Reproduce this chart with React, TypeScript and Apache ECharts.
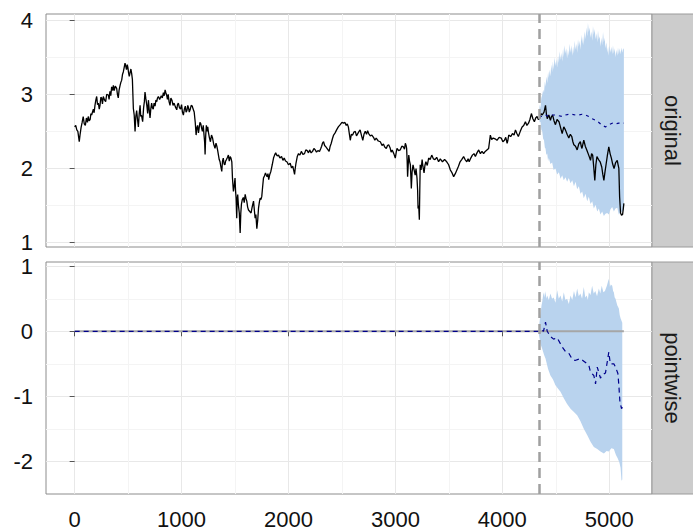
import React, { useEffect, useRef } from "react";
import * as echarts from "echarts";

// ---------- data ----------
const interventionX = 4342;
const xMajorTicks = [0, 1000, 2000, 3000, 4000, 5000];
const xMinorTicks = [500, 1500, 2500, 3500, 4500];
const topMajorTicks = [1, 2, 3, 4];
const topMinorTicks = [1.5, 2.5, 3.5];
const bottomMajorTicks = [-2, -1, 0, 1];
const bottomMinorTicks = [-1.5, -0.5, 0.5];
const panelNames = ["original", "pointwise"];

const observed: [number, number][] = [
  [0, 2.56], [10, 2.58], [20, 2.52], [30, 2.5], [43, 2.36], [50, 2.45], [60, 2.55], [70, 2.62], [80, 2.7],
  [90, 2.6], [100, 2.58], [110, 2.68], [120, 2.62], [127, 2.7], [136, 2.64], [145, 2.66], [152, 2.74],
  [159, 2.72], [167, 2.76], [175, 2.8], [182, 2.75], [190, 2.85], [198, 2.92], [206, 2.97], [214, 2.86],
  [222, 2.88], [230, 2.8], [237, 2.85], [245, 2.96], [252, 2.95], [260, 2.87], [268, 2.97], [280, 2.92],
  [290, 2.9], [300, 3.0], [315, 2.99], [322, 2.93], [330, 3.04], [338, 2.98], [346, 3.1], [356, 3.05],
  [362, 3.12], [370, 3.05], [380, 3.11], [393, 3.08], [400, 3.0], [408, 2.95], [416, 3.06], [425, 3.12],
  [432, 3.16], [440, 3.19], [448, 3.27], [455, 3.3], [463, 3.36], [471, 3.42], [478, 3.38], [485, 3.33],
  [492, 3.4], [498, 3.36], [505, 3.28], [511, 3.24], [520, 3.3], [526, 3.34], [533, 3.28], [540, 3.2],
  [549, 2.81], [557, 2.72], [565, 2.5], [572, 2.7], [580, 2.78], [588, 2.66], [596, 2.56], [604, 2.74],
  [612, 2.85], [618, 2.7], [625, 2.72], [636, 2.63], [645, 2.82], [652, 2.9], [658, 3.03], [666, 2.94],
  [675, 2.85], [683, 2.74], [690, 2.92], [697, 2.8], [705, 2.68], [712, 2.8], [720, 2.88], [727, 2.82],
  [735, 2.8], [743, 2.88], [752, 2.84], [760, 2.92], [768, 2.9], [775, 2.95], [783, 2.97], [795, 2.93],
  [810, 2.98], [820, 2.95], [830, 3.02], [838, 2.98], [846, 3.06], [853, 3.02], [860, 2.99], [868, 2.93],
  [875, 3.0], [883, 2.9], [892, 2.85], [900, 2.95], [910, 2.92], [920, 2.85], [930, 2.88], [942, 2.83],
  [955, 2.79], [962, 2.86], [970, 2.88], [980, 2.82], [990, 2.8], [1000, 2.86], [1008, 2.76], [1017, 2.72],
  [1026, 2.8], [1035, 2.84], [1042, 2.76], [1050, 2.78], [1058, 2.85], [1065, 2.82], [1072, 2.76],
  [1080, 2.79], [1090, 2.85], [1100, 2.84], [1108, 2.8], [1118, 2.76], [1128, 2.62], [1136, 2.45],
  [1143, 2.55], [1150, 2.58], [1158, 2.48], [1165, 2.55], [1172, 2.62], [1180, 2.6], [1188, 2.54],
  [1195, 2.5], [1203, 2.58], [1210, 2.45], [1216, 2.35], [1220, 2.19], [1226, 2.45], [1232, 2.58],
  [1238, 2.5], [1245, 2.56], [1252, 2.48], [1261, 2.41], [1270, 2.36], [1280, 2.45], [1290, 2.41],
  [1300, 2.33], [1313, 2.27], [1322, 2.34], [1330, 2.3], [1338, 2.24], [1345, 2.18], [1352, 2.12],
  [1360, 2.09], [1368, 2.02], [1376, 1.96], [1383, 2.1], [1390, 2.14], [1398, 2.06], [1405, 2.05],
  [1412, 2.1], [1420, 2.12], [1430, 2.15], [1438, 2.18], [1446, 2.1], [1455, 2.16], [1462, 2.14],
  [1470, 2.09], [1476, 1.87], [1485, 1.69], [1492, 1.76], [1500, 1.87], [1505, 1.7], [1510, 1.6],
  [1516, 1.33], [1520, 1.58], [1525, 1.65], [1532, 1.5], [1540, 1.4], [1548, 1.13], [1554, 1.4],
  [1560, 1.52], [1568, 1.58], [1578, 1.61], [1586, 1.54], [1595, 1.65], [1602, 1.6], [1610, 1.56],
  [1618, 1.48], [1626, 1.44], [1638, 1.42], [1650, 1.4], [1660, 1.48], [1673, 1.56], [1680, 1.45],
  [1688, 1.33], [1695, 1.38], [1704, 1.19], [1712, 1.3], [1720, 1.47], [1728, 1.55], [1735, 1.6],
  [1742, 1.58], [1750, 1.62], [1758, 1.75], [1766, 1.87], [1775, 1.9], [1785, 1.94], [1792, 1.91],
  [1800, 1.89], [1808, 1.93], [1815, 1.85], [1825, 1.92], [1835, 1.96], [1848, 2.05], [1860, 2.14],
  [1870, 2.18], [1880, 2.21], [1893, 2.17], [1907, 2.18], [1920, 2.14], [1935, 2.16], [1948, 2.11],
  [1960, 2.14], [1972, 2.1], [1985, 2.09], [2000, 2.05], [2016, 2.07], [2028, 2.01], [2040, 2.03],
  [2048, 1.98], [2057, 1.92], [2063, 2.0], [2070, 2.07], [2082, 2.16], [2094, 2.2], [2107, 2.18],
  [2120, 2.23], [2135, 2.19], [2150, 2.2], [2162, 2.25], [2175, 2.24], [2187, 2.21], [2198, 2.25],
  [2212, 2.21], [2225, 2.23], [2238, 2.27], [2250, 2.25], [2262, 2.22], [2275, 2.24], [2290, 2.23],
  [2302, 2.27], [2310, 2.3], [2318, 2.34], [2328, 2.36], [2338, 2.31], [2350, 2.29], [2365, 2.26],
  [2380, 2.23], [2390, 2.3], [2400, 2.34], [2411, 2.4], [2422, 2.45], [2436, 2.48], [2450, 2.52],
  [2466, 2.56], [2484, 2.59], [2500, 2.62], [2515, 2.61], [2528, 2.62], [2540, 2.58], [2550, 2.6],
  [2560, 2.56], [2570, 2.46], [2578, 2.38], [2588, 2.46], [2600, 2.45], [2612, 2.49], [2625, 2.5],
  [2636, 2.44], [2648, 2.47], [2660, 2.5], [2670, 2.52], [2682, 2.45], [2695, 2.38], [2706, 2.46],
  [2718, 2.5], [2730, 2.46], [2740, 2.51], [2750, 2.47], [2765, 2.44], [2780, 2.45], [2795, 2.42],
  [2808, 2.38], [2820, 2.41], [2840, 2.37], [2859, 2.36], [2875, 2.31], [2888, 2.33], [2900, 2.29],
  [2915, 2.27], [2926, 2.31], [2937, 2.32], [2950, 2.28], [2960, 2.22], [2970, 2.25], [2985, 2.2],
  [2999, 2.14], [3008, 2.22], [3015, 2.27], [3030, 2.24], [3045, 2.25], [3060, 2.3], [3075, 2.29],
  [3085, 2.26], [3093, 2.34], [3100, 2.31], [3105, 2.27], [3110, 2.1], [3114, 1.89], [3120, 2.05],
  [3125, 2.18], [3132, 2.1], [3140, 2.05], [3145, 1.88], [3149, 1.73], [3156, 1.95], [3165, 2.05],
  [3175, 1.98], [3185, 1.91], [3193, 2.0], [3202, 1.87], [3208, 1.7], [3212, 1.46], [3218, 1.5],
  [3224, 1.31], [3228, 1.7], [3232, 2.05], [3240, 1.98], [3250, 2.12], [3258, 2.02], [3268, 1.94],
  [3276, 2.04], [3285, 2.09], [3298, 2.04], [3311, 2.14], [3325, 2.12], [3340, 2.18], [3355, 2.13],
  [3370, 2.12], [3386, 2.15], [3404, 2.09], [3420, 2.13], [3440, 2.09], [3460, 2.12], [3480, 2.09],
  [3498, 2.05], [3514, 1.98], [3530, 1.94], [3545, 1.89], [3560, 1.93], [3575, 1.98], [3590, 2.03],
  [3605, 2.09], [3620, 2.12], [3638, 2.16], [3652, 2.12], [3668, 2.09], [3680, 2.13], [3690, 2.09],
  [3705, 2.14], [3720, 2.18], [3735, 2.2], [3748, 2.16], [3763, 2.21], [3779, 2.25], [3795, 2.2],
  [3810, 2.23], [3825, 2.2], [3840, 2.23], [3856, 2.25], [3872, 2.27], [3880, 2.36], [3888, 2.45],
  [3900, 2.39], [3915, 2.41], [3932, 2.4], [3950, 2.38], [3970, 2.42], [3990, 2.41], [4005, 2.36],
  [4020, 2.38], [4032, 2.42], [4045, 2.34], [4052, 2.38], [4060, 2.45], [4078, 2.43], [4095, 2.47],
  [4110, 2.45], [4123, 2.52], [4136, 2.47], [4150, 2.43], [4168, 2.5], [4185, 2.56], [4200, 2.58],
  [4216, 2.63], [4230, 2.58], [4245, 2.61], [4258, 2.66], [4272, 2.74], [4286, 2.67], [4300, 2.63],
  [4312, 2.68], [4325, 2.7], [4337, 2.66], [4350, 2.68], [4362, 2.74], [4373, 2.72], [4390, 2.76],
  [4404, 2.85], [4412, 2.74], [4420, 2.67], [4435, 2.72], [4450, 2.65], [4460, 2.7], [4470, 2.72],
  [4484, 2.64], [4497, 2.59], [4512, 2.66], [4530, 2.63], [4545, 2.55], [4560, 2.47], [4575, 2.56],
  [4590, 2.52], [4606, 2.46], [4622, 2.41], [4636, 2.46], [4650, 2.43], [4660, 2.36], [4669, 2.32],
  [4685, 2.3], [4700, 2.25], [4715, 2.33], [4730, 2.36], [4738, 2.3], [4745, 2.27], [4754, 2.33],
  [4762, 2.38], [4776, 2.3], [4790, 2.25], [4808, 2.18], [4825, 2.11], [4835, 2.2], [4845, 2.18],
  [4855, 2.02], [4865, 1.84], [4875, 2.05], [4885, 2.16], [4900, 2.12], [4915, 2.09], [4930, 2.02],
  [4940, 1.92], [4950, 1.84], [4960, 1.95], [4970, 2.05], [4983, 2.18], [4996, 2.29], [5008, 2.2],
  [5020, 2.14], [5032, 2.06], [5045, 2.0], [5060, 2.08], [5075, 2.11], [5083, 2.05], [5090, 2.0],
  [5097, 1.62], [5106, 1.4], [5115, 1.37], [5125, 1.38], [5131, 1.45], [5137, 1.53],
];

const predicted: [number, number][] = [
  [4342, 2.7], [4373, 2.7], [4404, 2.72], [4435, 2.7], [4466, 2.72], [4497, 2.72], [4529, 2.71],
  [4560, 2.7], [4591, 2.72], [4622, 2.73], [4654, 2.73], [4685, 2.72], [4716, 2.72], [4747, 2.73],
  [4778, 2.72], [4809, 2.7], [4841, 2.67], [4872, 2.65], [4903, 2.62], [4934, 2.58], [4965, 2.56],
  [4996, 2.59], [5028, 2.61], [5059, 2.6], [5090, 2.61], [5137, 2.61],
];

const originalUpper: [number, number][] = [
  [4342, 2.72], [4350, 2.86], [4357, 2.81], [4365, 2.95], [4373, 2.99], [4382, 3.06], [4390, 3.02],
  [4398, 3.17], [4404, 3.1], [4412, 3.24], [4420, 3.15], [4428, 3.3], [4435, 3.22], [4443, 3.33],
  [4450, 3.24], [4458, 3.4], [4466, 3.3], [4473, 3.44], [4480, 3.33], [4489, 3.5], [4497, 3.38],
  [4505, 3.47], [4513, 3.36], [4521, 3.52], [4529, 3.42], [4537, 3.58], [4545, 3.46], [4552, 3.56],
  [4560, 3.44], [4568, 3.62], [4575, 3.5], [4583, 3.66], [4591, 3.55], [4598, 3.62], [4606, 3.48],
  [4614, 3.6], [4622, 3.52], [4630, 3.68], [4638, 3.56], [4646, 3.66], [4654, 3.52], [4662, 3.64],
  [4670, 3.55], [4677, 3.72], [4685, 3.6], [4693, 3.68], [4700, 3.56], [4708, 3.74], [4716, 3.64],
  [4724, 3.72], [4731, 3.6], [4739, 3.8], [4747, 3.68], [4755, 3.78], [4762, 3.66], [4770, 3.85],
  [4778, 3.74], [4786, 3.9], [4794, 3.78], [4801, 3.96], [4809, 3.84], [4817, 3.9], [4825, 3.76],
  [4833, 3.85], [4841, 3.72], [4848, 3.92], [4856, 3.8], [4864, 3.88], [4872, 3.74], [4880, 3.82],
  [4888, 3.7], [4895, 3.86], [4903, 3.74], [4911, 3.78], [4918, 3.64], [4926, 3.76], [4934, 3.66],
  [4942, 3.84], [4950, 3.7], [4957, 3.76], [4965, 3.62], [4973, 3.7], [4981, 3.56], [4989, 3.64],
  [4996, 3.52], [5004, 3.66], [5012, 3.56], [5020, 3.64], [5028, 3.54], [5035, 3.66], [5043, 3.55],
  [5051, 3.62], [5059, 3.5], [5067, 3.6], [5075, 3.52], [5082, 3.63], [5090, 3.54], [5098, 3.62],
  [5106, 3.54], [5114, 3.63], [5122, 3.56], [5130, 3.62], [5137, 3.6],
];

const originalLower: [number, number][] = [
  [4342, 2.7], [4350, 2.62], [4357, 2.63], [4365, 2.52], [4373, 2.5], [4382, 2.4], [4390, 2.38],
  [4398, 2.28], [4404, 2.27], [4412, 2.18], [4420, 2.2], [4428, 2.1], [4435, 2.14], [4450, 2.06],
  [4466, 2.08], [4480, 1.98], [4497, 2.0], [4513, 1.92], [4529, 1.95], [4545, 1.86], [4560, 1.91],
  [4575, 1.84], [4591, 1.88], [4606, 1.82], [4622, 1.87], [4638, 1.8], [4654, 1.84], [4670, 1.76],
  [4685, 1.82], [4700, 1.72], [4716, 1.76], [4731, 1.66], [4747, 1.69], [4762, 1.6], [4778, 1.66],
  [4794, 1.56], [4809, 1.62], [4825, 1.52], [4841, 1.56], [4856, 1.46], [4872, 1.51], [4888, 1.42],
  [4903, 1.46], [4918, 1.38], [4934, 1.42], [4950, 1.36], [4965, 1.39], [4981, 1.4], [4996, 1.38],
  [5012, 1.45], [5028, 1.48], [5043, 1.42], [5059, 1.46], [5075, 1.47], [5090, 1.38], [5106, 1.41],
  [5122, 1.42], [5137, 1.44],
];

const pointwise: [number, number][] = [
  [0, 0], [4342, 0], [4365, 0.02], [4385, 0.0], [4404, 0.14], [4420, 0.0], [4450, -0.08], [4480, -0.12],
  [4513, -0.1], [4560, -0.24], [4590, -0.31], [4620, -0.33], [4650, -0.42], [4680, -0.45], [4730, -0.42],
  [4762, -0.46], [4809, -0.52], [4825, -0.63], [4856, -0.68], [4872, -0.81], [4888, -0.55], [4918, -0.72],
  [4934, -0.67], [4965, -0.64], [4996, -0.32], [5010, -0.5], [5043, -0.5], [5059, -0.55], [5081, -0.65],
  [5090, -0.83], [5100, -1.09], [5115, -1.19], [5137, -1.12],
];

const zeroLine: [number, number][] = [[0, 0], [5137, 0]];

const pointwiseUpper: [number, number][] = [
  [4342, 0.05], [4352, 0.2], [4360, 0.3], [4367, 0.4], [4373, 0.45], [4382, 0.56], [4390, 0.6],
  [4397, 0.52], [4404, 0.62], [4412, 0.5], [4420, 0.55], [4435, 0.48], [4450, 0.58], [4465, 0.5],
  [4480, 0.52], [4497, 0.44], [4513, 0.63], [4528, 0.5], [4544, 0.55], [4560, 0.46], [4575, 0.6],
  [4590, 0.48], [4606, 0.5], [4622, 0.42], [4638, 0.55], [4654, 0.48], [4670, 0.62], [4685, 0.52],
  [4700, 0.66], [4715, 0.54], [4730, 0.58], [4746, 0.5], [4762, 0.68], [4776, 0.52], [4790, 0.55],
  [4800, 0.48], [4809, 0.6], [4825, 0.56], [4840, 0.7], [4855, 0.58], [4870, 0.62], [4886, 0.54],
  [4903, 0.66], [4916, 0.58], [4930, 0.7], [4945, 0.6], [4960, 0.62], [4978, 0.7], [4996, 0.81],
  [5006, 0.68], [5015, 0.72], [5028, 0.7], [5036, 0.62], [5043, 0.6], [5051, 0.52], [5059, 0.5],
  [5067, 0.45], [5075, 0.4], [5090, 0.35], [5098, 0.25], [5106, 0.2], [5122, 0.13],
];

const pointwiseLower: [number, number][] = [
  [4342, -0.05], [4358, -0.2], [4373, -0.27], [4390, -0.36], [4404, -0.42], [4428, -0.58],
  [4450, -0.68], [4474, -0.74], [4497, -0.83], [4520, -0.88], [4544, -0.93], [4560, -0.98],
  [4575, -1.03], [4606, -1.12], [4638, -1.19], [4670, -1.24], [4700, -1.29], [4730, -1.38],
  [4762, -1.5], [4795, -1.6], [4825, -1.7], [4856, -1.78], [4888, -1.81], [4918, -1.85],
  [4950, -1.88], [4975, -1.84], [4996, -1.85], [5020, -1.8], [5043, -1.81], [5062, -1.9],
  [5081, -1.96], [5095, -2.02], [5106, -2.1], [5115, -2.3], [5122, -2.28],
];

// ---------- styling ----------
const FONT = '"Liberation Sans", Arial, Helvetica, sans-serif';
const BAND = "#b9d3ee";
const MAJOR = "#e8e8e8";
const MINOR = "#f4f4f4";
const BORDER = "#8c8c8c";
const LABEL_SIZE = 22;

const GRIDS = [
  { left: 46, top: 14, width: 606, height: 233 },
  { left: 46, top: 262, width: 606, height: 232 },
];

function bandSeries(upper: [number, number][], lower: [number, number][], idx: number) {
  return {
    type: "custom",
    xAxisIndex: idx,
    yAxisIndex: idx,
    silent: true,
    z: 1,
    data: [[upper[0][0], upper[0][1]]],
    renderItem: (_params: any, api: any) => {
      const pts: number[][] = [];
      upper.forEach((p) => pts.push(api.coord(p)));
      for (let i = lower.length - 1; i >= 0; i--) pts.push(api.coord(lower[i]));
      return { type: "polygon", shape: { points: pts }, style: { fill: BAND } };
    },
  };
}

function vline(idx: number) {
  return {
    type: "line",
    xAxisIndex: idx,
    yAxisIndex: idx,
    data: [],
    z: 4,
    markLine: {
      silent: true,
      symbol: ["none", "none"],
      label: { show: false },
      lineStyle: { color: "#a0a0a0", width: 2.5, type: [10, 6] },
      data: [{ xAxis: interventionX }],
    },
  };
}

export default function App() {
  const ref = useRef<HTMLDivElement>(null);
  useEffect(() => {
    if (!ref.current) return;
    const chart = echarts.init(ref.current, null, { renderer: "svg" });

    const xMajor = (gridIndex: number, showLabels: boolean) => ({
      type: "value",
      gridIndex,
      min: -268,
      max: 5400,
      position: "bottom",
      axisLine: { show: false },
      axisTick: { show: showLabels, length: 5, lineStyle: { color: "#555" }, customValues: xMajorTicks },
      axisLabel: {
        show: showLabels,
        customValues: xMajorTicks,
        formatter: (v: number) => String(v),
        margin: 14,
        fontSize: LABEL_SIZE,
        fontFamily: FONT,
        color: "#111",
      },
      splitLine: { show: true, lineStyle: { color: MAJOR, width: 1 } },
    });
    const xMinor = (gridIndex: number) => ({
      type: "value",
      gridIndex,
      min: -268,
      max: 5400,
      position: "top",
      axisLine: { show: false },
      axisTick: { show: false, customValues: xMinorTicks },
      axisLabel: { show: false, customValues: xMinorTicks },
      splitLine: { show: true, lineStyle: { color: MINOR, width: 1 } },
    });
    const yMajor = (gridIndex: number, min: number, max: number, ticks: number[]) => ({
      type: "value",
      gridIndex,
      min,
      max,
      position: "left",
      axisLine: { show: false },
      axisTick: { show: true, length: 5, lineStyle: { color: "#555" }, customValues: ticks },
      axisLabel: {
        show: true,
        customValues: ticks,
        formatter: (v: number) => String(v),
        margin: 13,
        fontSize: LABEL_SIZE,
        fontFamily: FONT,
        color: "#111",
      },
      splitLine: { show: true, lineStyle: { color: MAJOR, width: 1 } },
    });
    const yMinor = (gridIndex: number, min: number, max: number, ticks: number[]) => ({
      type: "value",
      gridIndex,
      min,
      max,
      position: "right",
      axisLine: { show: false },
      axisTick: { show: false, customValues: ticks },
      axisLabel: { show: false, customValues: ticks },
      splitLine: { show: true, lineStyle: { color: MINOR, width: 1 } },
    });

    const strips = GRIDS.map((g, i) => ({
      type: "group",
      children: [
        {
          type: "rect",
          shape: { x: 652, y: g.top, width: 44, height: g.height },
          style: { fill: "#cccccc", stroke: "#9a9a9a", lineWidth: 1 },
        },
        {
          type: "text",
          x: 672,
          y: g.top + g.height / 2,
          rotation: -Math.PI / 2,
          style: {
            text: panelNames[i],
            fontSize: 22,
            fontFamily: FONT,
            fill: "#1a1a1a",
            align: "center",
            verticalAlign: "middle",
          },
        },
      ],
    }));

    chart.setOption({
      animation: false,
      backgroundColor: "#ffffff",
      grid: GRIDS.map((g) => ({ ...g, show: true, borderColor: BORDER, borderWidth: 1, backgroundColor: "transparent" })),
      xAxis: [xMajor(0, false), xMajor(1, true), xMinor(0), xMinor(1)],
      yAxis: [
        yMajor(0, 0.942, 4.081, topMajorTicks),
        yMajor(1, -2.503, 1.066, bottomMajorTicks),
        yMinor(0, 0.942, 4.081, topMinorTicks),
        yMinor(1, -2.503, 1.066, bottomMinorTicks),
      ],
      graphic: strips,
      series: [
        bandSeries(originalUpper, originalLower, 0),
        {
          type: "line",
          xAxisIndex: 0,
          yAxisIndex: 0,
          data: observed,
          showSymbol: false,
          symbol: "none",
          z: 3,
          lineStyle: { color: "#000000", width: 1.3 },
        },
        {
          type: "line",
          xAxisIndex: 0,
          yAxisIndex: 0,
          data: predicted,
          showSymbol: false,
          symbol: "none",
          z: 3,
          lineStyle: { color: "#00008b", width: 1.2, type: [3, 4] },
        },
        vline(0),
        bandSeries(pointwiseUpper, pointwiseLower, 1),
        {
          type: "line",
          xAxisIndex: 1,
          yAxisIndex: 1,
          data: zeroLine,
          showSymbol: false,
          symbol: "none",
          z: 2,
          lineStyle: { color: "#a6a6a6", width: 2 },
        },
        {
          type: "line",
          xAxisIndex: 1,
          yAxisIndex: 1,
          data: pointwise,
          showSymbol: false,
          symbol: "none",
          z: 3,
          lineStyle: { color: "#00008b", width: 1.2, type: [5, 4] },
        },
        vline(1),
      ],
    });
    return () => chart.dispose();
  }, []);

  return (
    <div
      ref={ref}
      style={{ position: "fixed", left: 0, top: 0, width: 693, height: 531, background: "#fff" }}
    />
  );
}
